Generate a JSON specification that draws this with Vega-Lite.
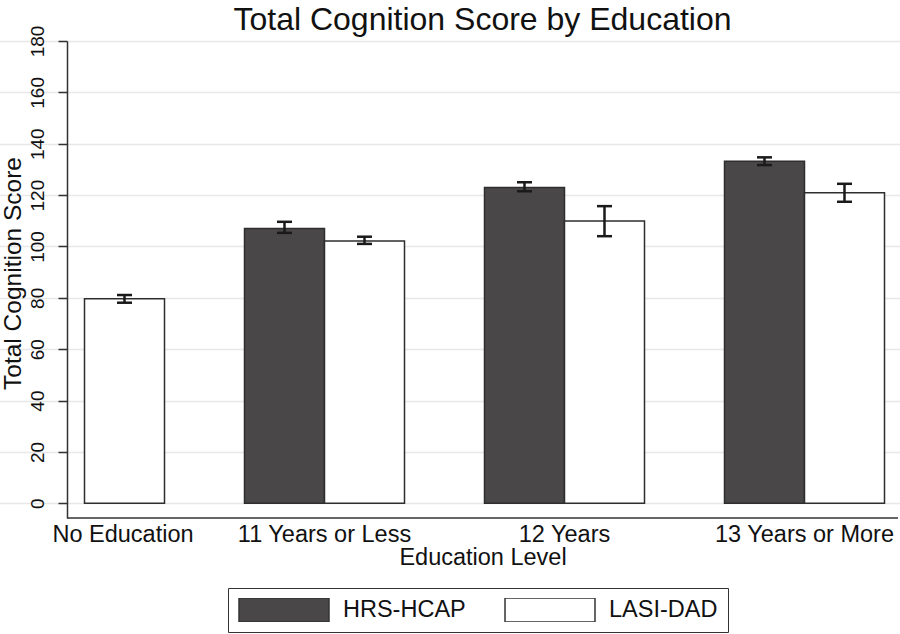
{
  "$schema": "https://vega.github.io/schema/vega-lite/v6.json",
  "width": 831,
  "height": 477,
  "autosize": {"type": "none"},
  "padding": {"left": 67, "top": 41, "right": 2, "bottom": 116},
  "background": "white",
  "title": {
    "text": "Total Cognition Score by Education",
    "fontSize": 32,
    "font": "Liberation Sans",
    "fontWeight": "normal",
    "color": "#111111",
    "anchor": "middle",
    "frame": "group",
    "baseline": "alphabetic",
    "offset": -37
  },
  "config": {"view": {"stroke": null}, "font": "Liberation Sans"},
  "data": {
    "values": [
      {"edu": "No Education", "study": "LASI-DAD", "mean": 79.6, "lo": 78.1, "hi": 81.1},
      {"edu": "11 Years or Less", "study": "HRS-HCAP", "mean": 107.0, "lo": 105.3, "hi": 109.6},
      {"edu": "11 Years or Less", "study": "LASI-DAD", "mean": 102.1, "lo": 101.0, "hi": 103.8},
      {"edu": "12 Years", "study": "HRS-HCAP", "mean": 123.0, "lo": 121.5, "hi": 125.0},
      {"edu": "12 Years", "study": "LASI-DAD", "mean": 109.9, "lo": 104.0, "hi": 115.7},
      {"edu": "13 Years or More", "study": "HRS-HCAP", "mean": 133.2, "lo": 131.7, "hi": 134.7},
      {"edu": "13 Years or More", "study": "LASI-DAD", "mean": 120.9, "lo": 117.4, "hi": 124.4}
    ]
  },
  "encoding": {
    "x": {
      "field": "edu",
      "type": "nominal",
      "sort": ["No Education", "11 Years or Less", "12 Years", "13 Years or More"],
      "scale": {"range": [-102.5, 857.5], "paddingInner": 0, "paddingOuter": 0},
      "axis": {
        "title": "Education Level",
        "domain": false,
        "ticks": false,
        "grid": false,
        "labelAngle": 0,
        "labelFontSize": 23.5,
        "labelColor": "#111111",
        "labelPadding": 4,
        "labelOverlap": false,
        "labelLimit": 0,
        "labelOffset": {"condition": {"test": "datum.value === 'No Education'", "value": 38.5}, "value": 0},
        "titleFontSize": 23.5,
        "titleFontWeight": "normal",
        "titleColor": "#111111",
        "titleX": 415.5,
        "titleY": 46,
        "titleAlign": "center",
        "titleBaseline": "alphabetic"
      }
    },
    "xOffset": {
      "field": "study",
      "type": "nominal",
      "scale": {"domain": ["HRS-HCAP", "LASI-DAD"], "paddingInner": 0, "paddingOuter": 0.5}
    }
  },
  "layer": [
    {
      "mark": {"type": "bar", "stroke": "#2e2e2e", "strokeWidth": 1.5},
      "encoding": {
        "y": {
          "field": "mean",
          "type": "quantitative",
          "scale": {"domain": [-5.72, 180], "nice": false, "zero": false},
          "axis": {
            "title": "Total Cognition Score",
            "values": [0, 20, 40, 60, 80, 100, 120, 140, 160, 180],
            "labelAngle": -90,
            "labelAlign": "center",
            "labelBaseline": "alphabetic",
            "labelFontSize": 19,
            "labelColor": "#111111",
            "labelPadding": 15,
            "labelOverlap": false,
            "tickSize": 9,
            "tickWidth": 1.5,
            "tickColor": "#333333",
            "domainColor": "#333333",
            "domainWidth": 1.5,
            "grid": true,
            "gridColor": "#e8e8e8",
            "gridWidth": 1.5,
            "titleFontSize": 24.5,
            "titleFontWeight": "normal",
            "titleColor": "#111111",
            "titleAngle": -90,
            "titleX": -47,
            "titleY": 232,
            "titleAlign": "center",
            "titleBaseline": "alphabetic"
          }
        },
        "fill": {
          "field": "study",
          "type": "nominal",
          "scale": {"domain": ["HRS-HCAP", "LASI-DAD"], "range": ["#4a4748", "#ffffff"]},
          "legend": {
            "title": null,
            "orient": "none",
            "legendX": 161,
            "legendY": 547,
            "direction": "horizontal",
            "symbolType": "M-1,-0.2667H1V0.2667H-1Z",
            "symbolSize": 8100,
            "symbolStrokeColor": "#333333",
            "symbolStrokeWidth": 1.5,
            "symbolOpacity": 1,
            "clipHeight": 24,
            "labelFontSize": 23.5,
            "labelColor": "#111111",
            "labelOffset": 13,
            "columnPadding": 38,
            "padding": 10,
            "strokeColor": "#333333"
          }
        }
      }
    },
    {
      "mark": {"type": "rule", "color": "#1a1a1a", "strokeWidth": 2.5},
      "encoding": {
        "y": {"field": "lo", "type": "quantitative"},
        "y2": {"field": "hi"}
      }
    },
    {
      "mark": {"type": "tick", "color": "#1a1a1a", "thickness": 2.5, "size": 15, "opacity": 1},
      "encoding": {"y": {"field": "lo", "type": "quantitative"}}
    },
    {
      "mark": {"type": "tick", "color": "#1a1a1a", "thickness": 2.5, "size": 15, "opacity": 1},
      "encoding": {"y": {"field": "hi", "type": "quantitative"}}
    },
    {
      "data": {"values": [{}]},
      "mark": {"type": "rule", "color": "#333333", "strokeWidth": 1.5},
      "encoding": {"x": null, "xOffset": null, "y": {"datum": -5.72}}
    }
  ]
}
